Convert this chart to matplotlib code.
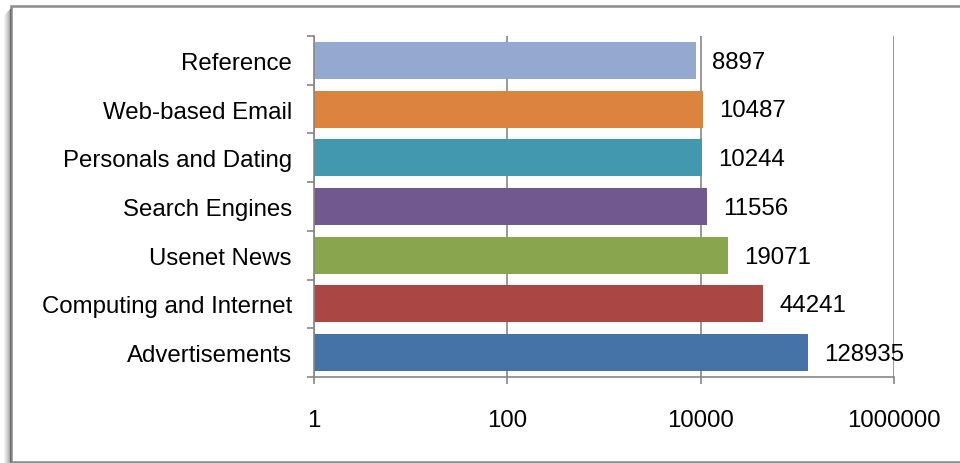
import matplotlib
matplotlib.use("Agg")
import matplotlib.pyplot as plt
from matplotlib.patches import Rectangle
from matplotlib.lines import Line2D
import numpy as np

categories = ["Advertisements", "Computing and Internet", "Usenet News",
              "Search Engines", "Personals and Dating", "Web-based Email", "Reference"]
values = [128935, 44241, 19071, 11556, 10244, 10487, 8897]
colors = ["#4572A7", "#AA4643", "#89A54E", "#71588F", "#4198AF", "#DB843D", "#93A9CF"]
xticks = [1, 100, 10000, 1000000]
xtick_labels = ["1", "100", "10000", "1000000"]

plt.rcParams['font.family'] = ['Liberation Sans', 'DejaVu Sans']

W, H = 960, 464
fig = plt.figure(figsize=(W / 100, H / 100), dpi=100)

def fx(px):
    return px / W
def fy(py):
    return 1 - py / H

# outer frame with soft left shadow
for i, a in enumerate([0.04, 0.07, 0.10, 0.14, 0.19, 0.25, 0.32]):
    off = 7 - i
    fig.add_artist(Line2D([fx(11 - off), fx(11 - off)], [fy(9 + off), fy(463)],
                          color="black", alpha=a, lw=1.0, transform=fig.transFigure))
fig.add_artist(Rectangle((fx(11), fy(463)), fx(960) - fx(11) + 0.01, fy(7) - fy(463),
                         transform=fig.transFigure, fill=False,
                         edgecolor="#8c8c8c", lw=1.8))

ax = fig.add_axes([fx(314), fy(378), fx(894) - fx(314), fy(37) - fy(378)])
y = np.arange(len(categories))
ax.barh(y, values, height=0.76, color=colors, left=0)
ax.set_xscale("log")
ax.set_xlim(1, 1000000)
ax.set_ylim(-0.5, len(categories) - 0.5)

ax.set_xticks(xticks)
ax.set_xticklabels(xtick_labels)
ax.xaxis.set_minor_locator(matplotlib.ticker.NullLocator())
ax.set_yticks(y)
ax.set_yticklabels(categories)
ax.set_yticks(np.arange(-0.5, len(categories)), minor=True)

fs = 17.3
ax.tick_params(axis="y", which="major", length=0, pad=16, labelsize=fs)
ax.tick_params(axis="y", which="minor", length=5, width=1.2, color="#868686")
ax.tick_params(axis="x", which="major", length=5, width=1.2, color="#868686",
               pad=18, labelsize=fs)

for s in ["top", "right"]:
    ax.spines[s].set_visible(False)
for s in ["left", "bottom"]:
    ax.spines[s].set_color("#868686")
    ax.spines[s].set_linewidth(1.2)

ax.grid(axis="x", which="major", color="#868686", lw=1.2)
ax.set_axisbelow(True)

for yi, v in zip(y, values):
    ax.annotate(str(v), (v, yi), xytext=(11.5, -1), textcoords="offset points",
                va="center", ha="left", fontsize=fs)

fig.savefig("out.png", dpi=100)
